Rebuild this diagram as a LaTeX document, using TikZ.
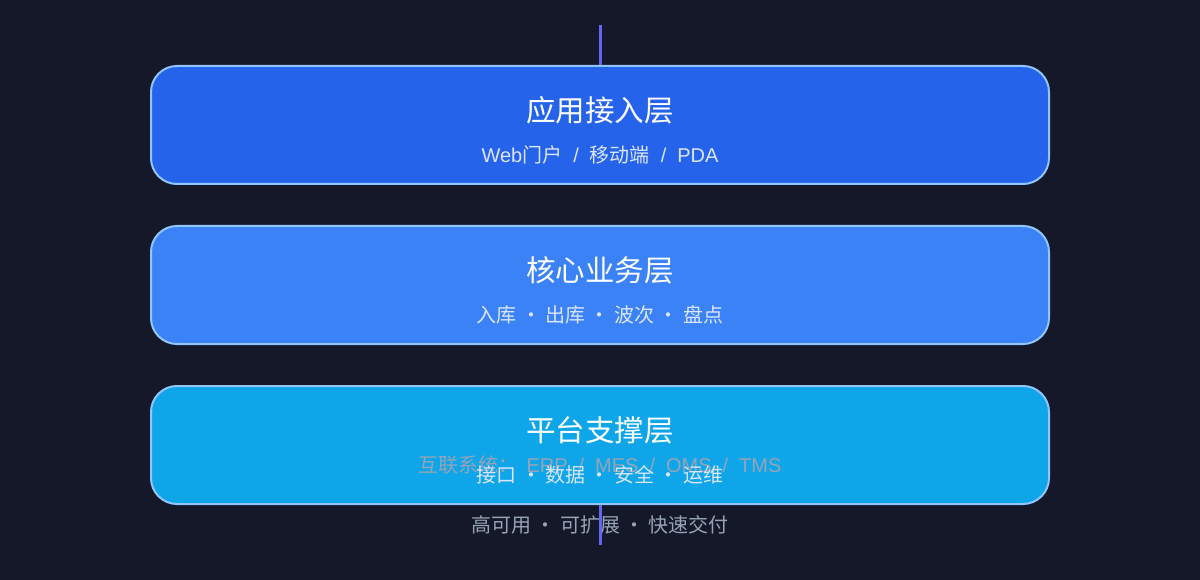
\documentclass[tikz,border=0pt]{standalone}
\usepackage{fontspec}
\setmainfont{Noto Sans CJK SC}
\newfontfamily\latinfont{Liberation Sans}
\usetikzlibrary{positioning}

\definecolor{bgdark}{HTML}{141829}
\definecolor{layerA}{HTML}{2563EB}
\definecolor{layerB}{HTML}{3B82F6}
\definecolor{layerC}{HTML}{0EA5E9}
\definecolor{layerrim}{HTML}{93C5FD}
\definecolor{axisline}{HTML}{6366F1}
\definecolor{subtext}{HTML}{DCE6FB}
\definecolor{greytext}{HTML}{97A3B6}

\newcommand{\lat}[1]{{\latinfont #1}}
\newcommand{\slashsep}{\hspace{11pt}\lat{/}\hspace{11pt}}

\tikzset{
  layer/.style={draw=layerrim, line width=2pt, rounded corners=26pt,
    minimum width=898pt, minimum height=118pt, inner sep=0pt},
  title/.style={text=white, font=\fontsize{29.5}{31}\selectfont, inner sep=0pt},
  sub/.style={text=subtext, font=\fontsize{20}{22}\selectfont, inner sep=0pt},
  note/.style={text=greytext, font=\fontsize{20}{22}\selectfont, inner sep=0pt},
  axis/.style={draw=axisline, line width=3pt}
}

\begin{document}
\begin{tikzpicture}[x=1pt,y=-1pt]
		\fill[bgdark] (0,0) rectangle (1200,580);
		\useasboundingbox (0,0) rectangle (1200,580);
		\coordinate (T) at (600,25);
		\coordinate (B) at (600,545);
		\node[layer, fill=layerA] (L1) at (600,125) {};
		\node[layer, fill=layerB, below=40pt of L1] (L2) {};
		\node[layer, fill=layerC, below=40pt of L2] (L3) {};
		\node[title] (T1) at (600,110) {应用接入层};
		\node[sub] (S1) at (600,155) {\lat{Web}门户\slashsep 移动端\slashsep\lat{PDA}};
		\node[title] (T2) at (600,270) {核心业务层};
		\node[sub] (S2) at (600,315) {入库 · 出库 · 波次 · 盘点};
		\node[title] (T3) at (600,430) {平台支撑层};
		\node[note] (N) at (600,465) {互联系统：\hspace{8pt}\lat{ERP}\slashsep\lat{MES}\slashsep\lat{OMS}\slashsep\lat{TMS}};
		\node[sub] (S3) at (600,475) {接口 · 数据 · 安全 · 运维};
		\node[note] (F) at (600,525) {高可用 · 可扩展 · 快速交付};
		\draw[axis] (T) -- (L1.north);
		\draw[axis] (L3.south) -- (B);
\end{tikzpicture}
\end{document}
